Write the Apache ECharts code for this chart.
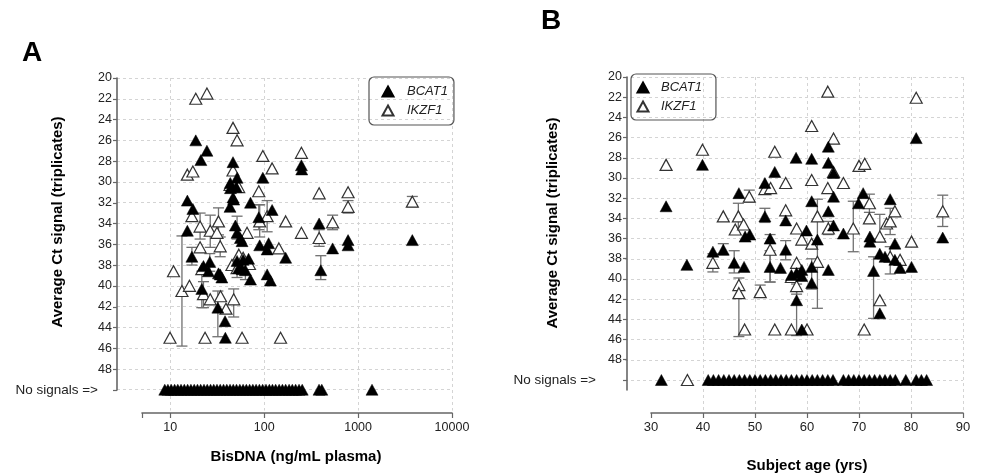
<!DOCTYPE html>
<html><head><meta charset="utf-8">
<script src="https://cdn.jsdelivr.net/npm/echarts@6/dist/echarts.min.js"></script>
<style>html,body{margin:0;padding:0;background:#fff}#c{width:981px;height:476px}</style>
</head><body><div id="c"></div>
<script>
// ---------- DATA ----------
const seriesNames = ['BCAT1', 'IKZF1'];
const yTickValues = [20,22,24,26,28,30,32,34,36,38,40,42,44,46,48];
const noSignalValue = 50;
const noSignalLabel = 'No signals =>';
const xTicksA = [10, 100, 1000, 10000];
const xTicksB = [30, 40, 50, 60, 70, 80, 90];

// Panel A: BisDNA (ng/mL) vs Ct
const aBcat = [[18.8,26.0],[24.7,27.0],[21.3,27.9],[46.8,28.1],[250,28.4],[252,28.8],[51.7,29.6],[97.2,29.6],[43.8,30.1],[44,30.6],[50.7,30.5],[46.8,31.5],[47.6,31.7],[43.5,32.4],[15.3,31.8],[17.5,32.6],[71.8,32.0],[122,32.7],[88,33.4],[49.6,34.2],[51.7,34.9],[56,35.4],[58.4,35.7],[15.3,34.7],[386,34.0],[784,35.6],[784,36.1],[3784,35.6],[537,36.4],[90,36.1],[112,35.9],[108,36.5],[68.5,37.4],[170,37.3],[17.1,37.2],[22.7,38.1],[26.5,37.7],[25.6,38.6],[32.8,38.8],[35.6,39.2],[34.2,38.9],[51.7,37.6],[53.8,38.3],[58.6,38.4],[63.4,38.5],[60,37.5],[71.8,39.4],[108,38.9],[117,39.5],[402,38.5],[21.8,40.3],[32.3,42.1],[38.5,43.4],[38.8,45.0]];
const aBcatErr = [[17.1,36.3,38.0],[21.8,38.6,42.1],[32.3,40.5,44.9],[402,37.1,39.4],[88,32.2,34.6],[51.7,33.3,35.5],[63.4,37.6,39.4],[26.5,36.9,38.6]];
const aBcatNone = [8.8,9.5,10.3,11.2,12.1,13.1,14.2,15.4,16.7,18.1,19.6,21.2,23.0,24.9,27.0,29.2,31.6,34.2,37.1,40.2,43.5,47.1,51.0,55.3,59.9,64.9,70.3,76.1,82.4,89.3,96.7,105,114,123,133,145,157,170,185,200,217,236,255,385,412,1410];
const aIkzf = [[18.8,22.0],[24.7,21.5],[46.8,24.8],[51.7,26.0],[97.2,27.5],[122,28.7],[250,27.2],[15.3,29.3],[17.5,29.0],[46.8,28.9],[43.5,30.3],[53.8,30.5],[88,30.9],[386,31.1],[784,31.0],[784,32.4],[3784,31.9],[17.1,33.3],[20.9,34.3],[26.8,34.7],[31.6,34.9],[32.8,33.8],[90,33.8],[108,33.3],[170,33.8],[250,34.9],[386,35.4],[537,33.9],[20.9,36.3],[34.2,36.2],[66,34.9],[144,36.4],[10.9,38.6],[13.4,40.5],[16.1,40.0],[21.8,38.4],[22.7,40.8],[26.8,41.3],[34.5,41.0],[39.4,42.2],[47.6,41.3],[45.6,38.0],[51.7,38.3],[70,37.9],[54,37.0],[60,37.3],[10,45],[23.6,45],[58.4,45],[150,45]];
const aIkzfErr = [[13.4,35.2,45.8],[32.8,32.5,35.1],[20.9,33.0,35.5],[26.8,33.2,36.3],[90,32.2,35.3],[108,31.8,34.8],[386,34.6,36.2],[537,33.2,34.6],[784,31.8,33.0],[3784,31.4,32.4],[47.6,40.3,43.0],[22.7,39.6,42.1],[51.7,37.5,39.2],[34.2,35.3,37.2]];

// Panel B: Subject age (yrs) vs Ct
const bBcat = [[32.9,32.8],[39.9,28.7],[46.9,31.5],[48.1,35.8],[49,35.6],[51.9,30.5],[53.8,29.4],[51.9,33.8],[52.9,36.0],[55.9,34.2],[57.9,28.0],[60.9,28.1],[60.9,32.3],[59.9,35.2],[62,36.1],[64.1,26.9],[64.1,28.5],[65.1,29.5],[65.1,31.85],[64.1,33.3],[65.1,34.7],[67,35.5],[69.9,32.5],[70.8,31.5],[72.1,35.8],[72.1,36.3],[76,32.1],[76.9,36.5],[81,26.05],[86.1,35.9],[36.9,38.6],[41.9,37.3],[43.9,37.1],[46,38.4],[47.9,38.8],[52.9,38.8],[54.9,38.9],[55.9,37.1],[57,39.6],[58,39.4],[59,39.1],[59,39.7],[58,42.1],[60.9,38.8],[60.9,40.4],[64.1,39.1],[72.8,39.2],[74,43.4],[74,37.5],[75,37.8],[76.9,38.1],[77.9,38.9],[80.1,38.8],[59,45]];
const bBcatErr = [[72.8,37.8,43.9],[58,40.5,45.6],[43.9,36.5,37.6],[46,37.2,39.4],[55.9,36.2,38.1],[60.9,38.0,41.0],[52.9,37.2,40.3],[51.9,33.0,34.4]];
const bBcatNone = [32,41,42,43,44,45,46,47,48,49,50,51,52,53,54,55,56,57,58,59,60,61,62,63,64,65,67,68,69,70,71,72,73,74,75,76,77,79,81,82,83];
const bIkzf = [[32.9,28.7],[39.9,27.2],[64,21.45],[81,22.05],[60.9,24.85],[65.1,26.1],[53.8,27.4],[70,28.8],[71.1,28.6],[60.9,30.2],[64,31.0],[67,30.5],[55.9,30.5],[51.9,31.1],[53,31.0],[48.9,31.85],[43.9,33.8],[46.8,33.8],[46.2,35.1],[47.8,34.6],[55.9,33.2],[58,35.0],[59,36.1],[60.9,36.5],[62,33.8],[64.1,35.0],[68.9,35.0],[72,32.5],[72,34.0],[74,35.8],[75.3,34.5],[76,34.3],[76.9,33.3],[80.1,36.3],[86.1,33.3],[65.1,29.4],[41.9,38.4],[46.9,40.6],[46.9,41.4],[51,41.3],[52.9,37.1],[58,38.4],[57,39.8],[58,40.7],[62,38.3],[74,42.1],[76,37.8],[77.9,38.1],[48,45],[53.8,45],[57,45],[60,45],[71,45]];
const bIkzfErr = [[48.9,31.2,32.4],[46.8,32.5,35.0],[41.9,37.5,39.3],[46.9,39.9,45.7],[51,40.6,41.6],[52.9,35.6,40.3],[62,32.1,42.9],[68.9,32.3,37.3],[72,31.6,33.4],[86.1,31.7,34.8],[74,33.6,36.0],[76,33.0,35.6],[64.1,34.3,35.6],[58,39.8,41.5],[76,36.8,39.5]];
const bIkzfNone = [37];

// ---------- STYLE / BUILD ----------
const FF = '"Liberation Sans", Arial, Helvetica, sans-serif';
const G = '#d4d4d4', T = 'rgba(0,0,0,0)';
const axisGray = '#666';
const symSize = [12, 11];

function withNone(points, none) {
  return points.concat(none.map(x => [x, noSignalValue]));
}
function errItem(params, api) {
  const x = api.value(0), lo = api.value(1), hi = api.value(2);
  const p1 = api.coord([x, lo]), p2 = api.coord([x, hi]);
  const w = 5.5;
  const style = { stroke: '#707070', lineWidth: 1.3, fill: null };
  return { type: 'group', children: [
    { type: 'line', shape: { x1: p1[0], y1: p1[1], x2: p2[0], y2: p2[1] }, style },
    { type: 'line', shape: { x1: p1[0] - w, y1: p1[1], x2: p1[0] + w, y2: p1[1] }, style },
    { type: 'line', shape: { x1: p2[0] - w, y1: p2[1], x2: p2[0] + w, y2: p2[1] }, style }
  ]};
}
const openStyle = { color: '#fff', borderColor: '#333', borderWidth: 1.2, opacity: 1 };
const fillStyle = { color: '#000', borderColor: '#000', borderWidth: 0.5, opacity: 1 };

function yLineAxis(grid, max, pad) {
  return {
    type: 'value', gridIndex: grid, inverse: true, min: 20, max: max,
    axisLine: { show: true, lineStyle: { color: axisGray, width: 1.6 } },
    axisTick: { show: true, length: 4, customValues: yTickValues.concat([noSignalValue]), lineStyle: { color: axisGray, width: 1.2 } },
    axisLabel: {
      customValues: yTickValues.concat([noSignalValue]), margin: 5,
      fontFamily: FF, fontSize: 12.5, color: '#222',
      formatter: v => v === noSignalValue ? '{ns|' + noSignalLabel + '}' : String(v),
      rich: { ns: { fontFamily: FF, fontSize: 13.5, color: '#222', padding: [0, pad, 0, 0] } }
    },
    splitLine: { show: false }
  };
}
const hiddenVal = g => ({ type: 'value', gridIndex: g, show: false });

const option = {
  backgroundColor: '#fff',
  animation: false,
  grid: [
    { left: 117, top: 78, width: 335, height: 332.5 },   // A data
    { left: 117, top: 78, width: 335, height: 312 },     // A y axis line
    { left: 142, top: 300, width: 310, height: 113 },    // A x axis line
    { left: 625, top: 77, width: 338, height: 333.3 },   // B data
    { left: 627, top: 77, width: 336, height: 313 },     // B y axis line
    { left: 651, top: 300, width: 312, height: 113 }     // B x axis line
  ],
  xAxis: [
    { type: 'log', logBase: 10, gridIndex: 0, min: 2.73, max: 10000,
      axisLine: { show: false }, axisTick: { show: false }, axisLabel: { show: false },
      splitLine: { show: true, lineStyle: { type: [3, 3], width: 1, color: [T, G, G, G, G] } } },
    hiddenVal(1),
    { type: 'log', logBase: 10, gridIndex: 2, min: 5, max: 10000,
      axisLine: { show: true, lineStyle: { color: axisGray, width: 1.6 } },
      axisTick: { show: true, length: 5, inside: false, lineStyle: { color: axisGray, width: 1.2 } },
      axisLabel: { margin: 8, fontFamily: FF, fontSize: 12.5, color: '#222',
        formatter: v => { const l = Math.log10(v); return Math.abs(l - Math.round(l)) < 1e-6 && xTicksA.includes(Math.round(v)) ? String(Math.round(v)) : ''; } },
      splitLine: { show: false } },
    { type: 'value', gridIndex: 3, min: 25, max: 90, interval: 5,
      axisLine: { show: false }, axisTick: { show: false }, axisLabel: { show: false },
      splitLine: { show: true, lineStyle: { type: [3, 3], width: 1, color: [T, T, T, G, T, G, T, G, T, G, T, G, T, G] } } },
    hiddenVal(4),
    { type: 'value', gridIndex: 5, min: xTicksB[0], max: xTicksB[xTicksB.length - 1], interval: 10,
      axisLine: { show: true, lineStyle: { color: axisGray, width: 1.6 } },
      axisTick: { show: true, length: 5, lineStyle: { color: axisGray, width: 1.2 } },
      axisLabel: { margin: 8, fontFamily: FF, fontSize: 13, color: '#222' },
      splitLine: { show: false } }
  ],
  yAxis: [
    { type: 'value', gridIndex: 0, inverse: true, min: 20, max: 52, interval: 2,
      axisLine: { show: false }, axisTick: { show: false }, axisLabel: { show: false },
      splitLine: { show: true, lineStyle: { type: [3, 3], width: 1, color: [G,G,G,G,G,G,G,G,G,G,G,G,G,G,G,G,T] } } },
    yLineAxis(1, 50, 14),
    hiddenVal(2),
    { type: 'value', gridIndex: 3, inverse: true, min: 20, max: 53, interval: 2,
      axisLine: { show: false }, axisTick: { show: false }, axisLabel: { show: false },
      splitLine: { show: true, lineStyle: { type: [3, 3], width: 1, color: [G,G,G,G,G,G,G,G,G,G,G,G,G,G,G,G,T,T] } } },
    yLineAxis(4, 51, 26),
    hiddenVal(5)
  ],
  legend: [
    { data: seriesNames, orient: 'vertical', left: 369, top: 77, selectedMode: false,
      padding: [8, 6, 8, 12.5], itemWidth: 11, itemHeight: 10, itemGap: 6,
      borderColor: '#555', borderWidth: 1.2, borderRadius: 5,
      textStyle: { fontFamily: FF, fontStyle: 'italic', fontSize: 13, color: '#222', padding: [0, 0, 0, 8.5] } },
    { data: seriesNames, orient: 'vertical', left: 631, top: 74, selectedMode: false,
      padding: [7, 14, 7, 5.5], itemWidth: 11, itemHeight: 10, itemGap: 6,
      borderColor: '#555', borderWidth: 1.2, borderRadius: 5,
      textStyle: { fontFamily: FF, fontStyle: 'italic', fontSize: 13, color: '#222', padding: [0, 0, 0, 7.5] } }
  ],
  graphic: [
    { type: 'text', left: 22, top: 39, style: { text: 'A', fontFamily: FF, fontSize: 28, fontWeight: 'bold', fill: '#000' } },
    { type: 'text', left: 541, top: 7, style: { text: 'B', fontFamily: FF, fontSize: 28, fontWeight: 'bold', fill: '#000' } },
    { type: 'text', x: 58, y: 222, rotation: Math.PI / 2, style: { text: 'Average Ct signal (triplicates)', fontFamily: FF, fontSize: 15, fontWeight: 'bold', fill: '#000', align: 'center', verticalAlign: 'middle' } },
    { type: 'text', x: 553, y: 223, rotation: Math.PI / 2, style: { text: 'Average Ct signal (triplicates)', fontFamily: FF, fontSize: 15, fontWeight: 'bold', fill: '#000', align: 'center', verticalAlign: 'middle' } },
    { type: 'text', x: 296, y: 457, style: { text: 'BisDNA (ng/mL plasma)', fontFamily: FF, fontSize: 15, fontWeight: 'bold', fill: '#000', align: 'center', verticalAlign: 'middle' } },
    { type: 'text', x: 807, y: 466, style: { text: 'Subject age (yrs)', fontFamily: FF, fontSize: 15, fontWeight: 'bold', fill: '#000', align: 'center', verticalAlign: 'middle' } }
  ],
  series: [
    { name: 'IKZF1 err A', type: 'custom', xAxisIndex: 0, yAxisIndex: 0, silent: true, renderItem: errItem, data: aIkzfErr, encode: { x: 0, y: [1, 2] }, z: 2 },
    { name: 'BCAT1 err A', type: 'custom', xAxisIndex: 0, yAxisIndex: 0, silent: true, renderItem: errItem, data: aBcatErr, encode: { x: 0, y: [1, 2] }, z: 2 },
    { name: 'IKZF1', type: 'scatter', xAxisIndex: 0, yAxisIndex: 0, symbol: 'triangle', symbolSize: symSize, itemStyle: openStyle, data: aIkzf, z: 3 },
    { name: 'BCAT1', type: 'scatter', xAxisIndex: 0, yAxisIndex: 0, symbol: 'triangle', symbolSize: symSize, itemStyle: fillStyle, data: withNone(aBcat, aBcatNone), z: 4 },
    { name: 'IKZF1 err B', type: 'custom', xAxisIndex: 3, yAxisIndex: 3, silent: true, renderItem: errItem, data: bIkzfErr, encode: { x: 0, y: [1, 2] }, z: 2 },
    { name: 'BCAT1 err B', type: 'custom', xAxisIndex: 3, yAxisIndex: 3, silent: true, renderItem: errItem, data: bBcatErr, encode: { x: 0, y: [1, 2] }, z: 2 },
    { name: 'IKZF1', type: 'scatter', xAxisIndex: 3, yAxisIndex: 3, symbol: 'triangle', symbolSize: symSize, itemStyle: openStyle, data: withNone(bIkzf, bIkzfNone), z: 3 },
    { name: 'BCAT1', type: 'scatter', xAxisIndex: 3, yAxisIndex: 3, symbol: 'triangle', symbolSize: symSize, itemStyle: fillStyle, data: withNone(bBcat, bBcatNone), z: 4 }
  ]
};
const chart = echarts.init(document.getElementById('c'));
chart.setOption(option);
</script></body></html>
